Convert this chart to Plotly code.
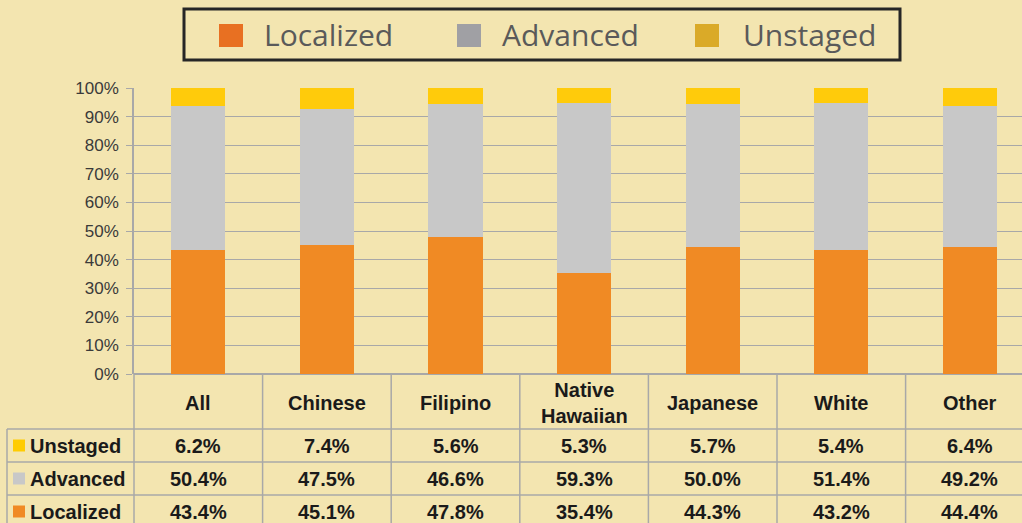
import plotly.graph_objects as go

categories = ["All", "Chinese", "Filipino", "Native Hawaiian", "Japanese", "White", "Other"]
header_labels = ["All", "Chinese", "Filipino", "Native<br>Hawaiian", "Japanese", "White", "Other"]
localized = [43.4, 45.1, 47.8, 35.4, 44.3, 43.2, 44.4]
advanced = [50.4, 47.5, 46.6, 59.3, 50.0, 51.4, 49.2]
unstaged = [6.2, 7.4, 5.6, 5.3, 5.7, 5.4, 6.4]
series_names = ["Localized", "Advanced", "Unstaged"]
y_tick_vals = [0, 10, 20, 30, 40, 50, 60, 70, 80, 90, 100]
y_tick_text = ["0%", "10%", "20%", "30%", "40%", "50%", "60%", "70%", "80%", "90%", "100%"]
bar_colors = ["#F08A24", "#C8C8C8", "#FFCB0B"]
legend_colors = ["#E87022", "#A0A0A4", "#DAAA28"]

W, H = 1022, 523
L, R, T, B = 134, 0, 88, 149
PW, PH = W - L - R, H - T - B
COLW = 128.6
x_range = [-0.5, -0.5 + PW / COLW]

def px2x(px):
    return (px - L) / PW

def px2y(py):
    return (H - B - py) / PH

def cat2paper(v):
    return (v - x_range[0]) / (x_range[1] - x_range[0])

BG = "#F3E5B0"
GRID = "#A8A8A8"
TXT = "#1A1A1A"

fig = go.Figure()
idx = list(range(len(categories)))
for name, vals, col in zip(series_names, [localized, advanced, unstaged], bar_colors):
    fig.add_trace(go.Bar(x=idx, y=vals, name=name, marker=dict(color=col, line=dict(width=0)),
                         width=0.42, showlegend=False, hoverinfo="y+name"))

shapes = []
annotations = []

# Legend (custom)
shapes.append(dict(type="rect", xref="paper", yref="paper", x0=px2x(184), x1=px2x(900),
                   y0=px2y(60), y1=px2y(9), line=dict(color="#262626", width=3), fillcolor=BG, layer="above"))
leg_sq_x = [219, 457, 695]
leg_txt_x = [262, 500, 741]
for name, col, sx, tx in zip(series_names, legend_colors, leg_sq_x, leg_txt_x):
    shapes.append(dict(type="rect", xref="paper", yref="paper", x0=px2x(sx), x1=px2x(sx + 24),
                       y0=px2y(47), y1=px2y(24), line=dict(width=0), fillcolor=col))
    annotations.append(dict(text=name, xref="paper", yref="paper", x=px2x(tx), y=px2y(35),
                            xanchor="left", yanchor="middle", showarrow=False,
                            font=dict(family="Open Sans", size=30, color="#5A5A5A")))

# Table
table_top, header_bot = 374, 429
row_bounds = [429, 462, 495, 528]
row_names = ["Unstaged", "Advanced", "Localized"]
row_vals = [unstaged, advanced, localized]
row_sq_colors = ["#FFCC00", "#C8C8C8", "#F08A24"]

for yb in row_bounds[:-1]:
    shapes.append(dict(type="line", xref="paper", yref="paper", x0=px2x(7), x1=1.0,
                       y0=px2y(yb), y1=px2y(yb), line=dict(color=GRID, width=1.5)))
for k in range(len(categories) + 1):
    xp = cat2paper(k - 0.5)
    if xp <= 1.0:
        shapes.append(dict(type="line", xref="paper", yref="paper", x0=xp, x1=xp,
                           y0=px2y(table_top), y1=px2y(H), line=dict(color=GRID, width=1.5)))
shapes.append(dict(type="line", xref="paper", yref="paper", x0=px2x(7), x1=px2x(7),
                   y0=px2y(header_bot), y1=px2y(H), line=dict(color=GRID, width=1.5)))

for i, lab in enumerate(header_labels):
    annotations.append(dict(text="<b>" + lab + "</b>", xref="paper", yref="paper",
                            x=cat2paper(i), y=px2y((table_top + header_bot) / 2 + 1),
                            xanchor="center", yanchor="middle", showarrow=False,
                            font=dict(family="Liberation Sans", size=20, color=TXT)))
for r, (rname, vals, sc) in enumerate(zip(row_names, row_vals, row_sq_colors)):
    yc = (row_bounds[r] + row_bounds[r + 1]) / 2
    shapes.append(dict(type="rect", xref="paper", yref="paper", x0=px2x(13), x1=px2x(25),
                       y0=px2y(yc + 6), y1=px2y(yc - 6), line=dict(width=0), fillcolor=sc))
    annotations.append(dict(text="<b>" + rname + "</b>", xref="paper", yref="paper",
                            x=px2x(28), y=px2y(yc), xanchor="left", yanchor="middle", showarrow=False,
                            font=dict(family="Liberation Sans", size=20, color=TXT)))
    for i, v in enumerate(vals):
        annotations.append(dict(text="<b>%.1f%%</b>" % v, xref="paper", yref="paper",
                                x=cat2paper(i), y=px2y(yc), xanchor="center", yanchor="middle",
                                showarrow=False,
                                font=dict(family="Liberation Sans", size=20, color=TXT)))

fig.update_layout(
    width=W, height=H,
    margin=dict(l=L, r=R, t=T, b=B, pad=0),
    paper_bgcolor=BG, plot_bgcolor=BG,
    barmode="stack",
    bargap=0,
    showlegend=False,
    shapes=shapes,
    annotations=annotations,
    xaxis=dict(range=x_range, showticklabels=False, showgrid=False, zeroline=False,
               showline=False, ticks="", fixedrange=True),
    yaxis=dict(range=[0, 100], tickmode="array", tickvals=y_tick_vals, ticktext=y_tick_text,
               showgrid=True, gridcolor=GRID, gridwidth=1, zeroline=True, zerolinecolor=GRID,
               zerolinewidth=1.5, showline=True, linecolor=GRID, linewidth=1.5,
               ticks="outside", ticklen=6, tickcolor=GRID, ticklabelstandoff=4,
               tickfont=dict(family="Liberation Sans", size=17, color="#3A3A3A")),
)

fig.write_html("out.html", config={"displayModeBar": False},
               post_script="document.body.style.margin='0';document.body.style.padding='0';")
